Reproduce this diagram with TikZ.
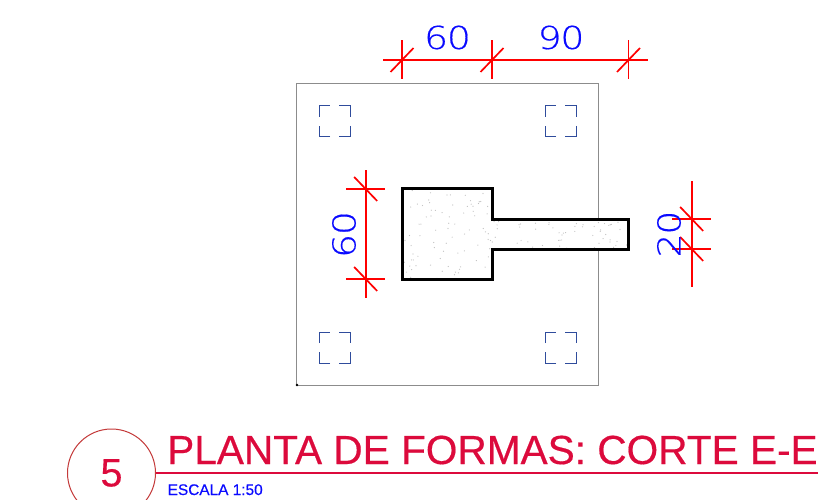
\documentclass[tikz,border=0pt]{standalone}
\usepackage{fontspec}
\setmainfont{Liberation Sans}
\newfontfamily\dimfont[FakeStretch=1.2,FakeBold=0.5,LetterSpace=-4]{DejaVu Sans ExtraLight}
\newfontfamily\heavyfont[FakeBold=0.4]{Liberation Sans}
\definecolor{crim}{HTML}{DC0A3C}
\definecolor{ringred}{HTML}{C43A3A}
\definecolor{navy}{HTML}{2F4C9C}
\definecolor{dimred}{HTML}{FF0000}
\definecolor{dimblue}{HTML}{0A0AFF}
\definecolor{frame}{HTML}{8C8C8C}
\tikzset{
 dimline/.style={draw=dimred,line width=1.7pt},
 dimbar/.style={fill=dimred,draw=none},
 dimtext/.style={text=dimblue,inner sep=0pt,font=\dimfont\fontsize{31.5}{32}\selectfont},
 mark seg/.style={draw=navy,line width=1pt},
 sectionline/.style={draw=black,line width=3pt,line join=miter},
}
\newcommand{\crop}[2]{% corner marks: top left at (#1,#2), size 31
 \draw[mark seg] (#1,#2+11)--(#1,#2)--(#1+11,#2);
 \draw[mark seg] (#1+20,#2)--(#1+31,#2)--(#1+31,#2+11);
 \draw[mark seg] (#1+31,#2+20)--(#1+31,#2+31)--(#1+20,#2+31);
 \draw[mark seg] (#1+11,#2+31)--(#1,#2+31)--(#1,#2+20);
}
\newcommand{\vbar}[3]{% vertical red bar at x=#1 from y=#2 to y=#3
 \fill[dimbar] (#1-0.85,#2) rectangle (#1+0.85,#3);
}
\newcommand{\htick}[2]{% vertical tick on a horizontal dimension
 \vbar{#1}{#2-19.5}{#2+19.5}
 \draw[dimline] (#1-11.5,#2+12)--(#1+11.5,#2-12);
}
\newcommand{\vtick}[2]{% horizontal tick on a vertical dimension
 \draw[dimline] (#1-19.5,#2)--(#1+19.5,#2);
 \draw[dimline] (#1-11.5,#2-12)--(#1+11.5,#2+12);
}
\begin{document}
\begin{tikzpicture}[x=1pt,y=-1pt]
\clip (0,0) rectangle (828,500);
\fill[white] (0,0) rectangle (828,500);
% slab
\draw[frame,line width=1pt] (296.5,83.5) rectangle (598.5,385);
\fill[black] (297,385) circle (1.4);
% corner marks
\crop{319}{106}
\crop{545}{106}
\crop{319}{332}
\crop{545}{332}
% section
\begin{scope}
\clip (402,189)--(492.7,189)--(492.7,219.3)--(628.7,219.3)--(628.7,249)--(492.7,249)--(492.7,279.3)--(402,279.3)--cycle;
\fill[white] (402,189) rectangle (629,280);
\pgfmathsetseed{51}
\foreach \i in {1,...,85}{
 \pgfmathsetmacro{\px}{402+91*rnd}
 \pgfmathsetmacro{\py}{189+90*rnd}
 \fill[black!25] (\px,\py) circle (0.6);
}
\foreach \i in {1,...,60}{
 \pgfmathsetmacro{\px}{492+136*rnd}
 \pgfmathsetmacro{\py}{219+30*rnd}
 \fill[black!25] (\px,\py) circle (0.6);
}
\end{scope}
\draw[sectionline] (402,189)--(492.7,189)--(492.7,219.3)--(628.7,219.3)--(628.7,249)--(492.7,249)--(492.7,279.3)--(402,279.3)--cycle;
% top dimension
\draw[dimline] (383,60)--(648,60);
\htick{402}{60}
\htick{492}{60}
\htick{628.5}{60}
\node[dimtext] (d60) at (447.5,37.5) {60};
\node[dimtext] (d90) at (561,37.5) {90};
% left dimension
\vbar{365.7}{170}{298}
\vtick{365.7}{189}
\vtick{365.7}{279}
\node[dimtext,rotate=90] (l60) at (344,234.5) {60};
% right dimension
\vbar{691.7}{181}{287}
\vtick{691.7}{219}
\vtick{691.7}{249}
\node[dimtext,rotate=90] (r20) at (669,234) {20};
% title block
\node[draw=ringred,line width=1pt,circle,minimum size=88pt,inner sep=0pt,text=crim,font=\heavyfont\fontsize{39.5}{40}\selectfont] (ring) at (111.5,473) {5};
\coordinate (lineend) at (818,473);
\draw[crim,line width=1.5pt] (ring.east)--(lineend);
\node[anchor=base west,inner sep=0pt,text=crim,font=\heavyfont\fontsize{40.6}{41}\selectfont] (title) at (167,464) {PLANTA DE FORMAS: CORTE E-E};
\node[anchor=base west,inner sep=0pt,text=dimblue,font=\heavyfont\fontsize{15.4}{16}\selectfont] (scale) at (167.5,495) {ESCALA 1:50};
\end{tikzpicture}
\end{document}
